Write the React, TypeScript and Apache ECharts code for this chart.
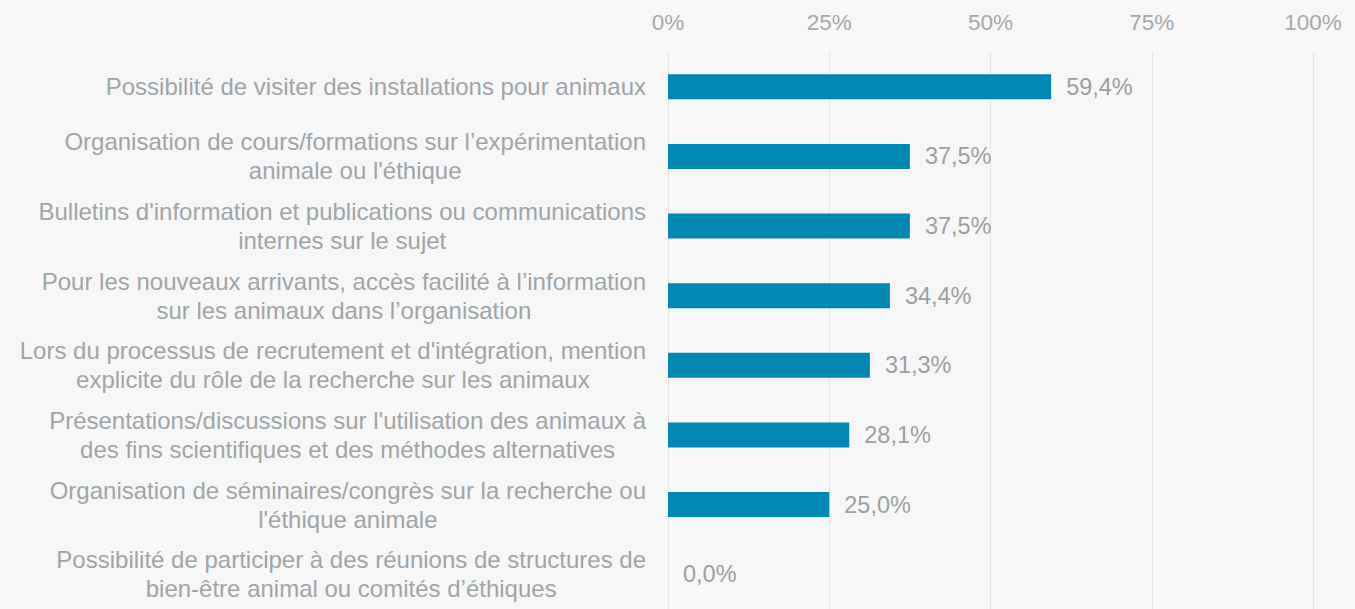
import React, { useEffect, useRef } from "react";
import * as echarts from "echarts";

const categories: string[][] = [
  ["Possibilité de visiter des installations pour animaux"],
  ["Organisation de cours/formations sur l’expérimentation", "animale ou l'éthique"],
  ["Bulletins d'information et publications ou communications", "internes sur le sujet"],
  ["Pour les nouveaux arrivants, accès facilité à l’information", "sur les animaux dans l’organisation"],
  ["Lors du processus de recrutement et d'intégration, mention", "explicite du rôle de la recherche sur les animaux"],
  ["Présentations/discussions sur l'utilisation des animaux à", "des fins scientifiques et des méthodes alternatives"],
  ["Organisation de séminaires/congrès sur la recherche ou", "l'éthique animale"],
  ["Possibilité de participer à des réunions de structures de", "bien-être animal ou comités d’éthiques"],
];
const values: number[] = [59.4, 37.5, 37.5, 34.4, 31.3, 28.1, 25.0, 0.0];
const tickValues: number[] = [0, 25, 50, 75, 100];

export default function App() {
  const ref = useRef<HTMLDivElement>(null);
  useEffect(() => {
    if (!ref.current) return;
    const chart = echarts.init(ref.current, undefined, { renderer: "svg" });
    const catNames = categories.map((c) => c.join("\n"));
    chart.setOption({
      animation: false,
      backgroundColor: "#f7f7f7",
      textStyle: { fontFamily: "Liberation Sans, Arial, sans-serif" },
      grid: { left: 668, width: 645, top: 52, height: 562 },
      xAxis: {
        type: "value",
        position: "top",
        min: 0,
        max: 100,
        interval: 25,
        axisLine: { show: false },
        axisTick: { show: false },
        splitLine: { show: true, lineStyle: { color: "#e4e4e4", width: 1 } },
        axisLabel: {
          color: "#a5a8aa",
          fontSize: 22.5,
          margin: 18,
          formatter: (v: number) => (tickValues.includes(v) ? v + "%" : ""),
        },
      },
      yAxis: {
        type: "category",
        inverse: true,
        data: catNames,
        axisLine: { show: false },
        axisTick: { show: false },
        axisLabel: {
          margin: 22,
          formatter: (v: string) =>
            v
              .split("\n")
              .map((l) => "{a|" + l + "}")
              .join("\n"),
          rich: {
            a: {
              color: "#a0a4a6",
              fontSize: 24,
              lineHeight: 29,
              align: "center",
              fontFamily: "Liberation Sans, Arial, sans-serif",
            },
          },
        },
      },
      series: [
        {
          type: "bar",
          data: values,
          barWidth: 25,
          itemStyle: { color: "#0088b3" },
          label: {
            show: true,
            position: "right",
            distance: 15,
            color: "#9b9fa1",
            fontSize: 23.5,
            formatter: (p: any) => p.value.toFixed(1).replace(".", ",") + "%",
          },
        },
      ],
    });
    return () => chart.dispose();
  }, []);
  return (
    <div
      ref={ref}
      style={{ position: "fixed", left: 0, top: 0, width: 1355, height: 609 }}
    />
  );
}
